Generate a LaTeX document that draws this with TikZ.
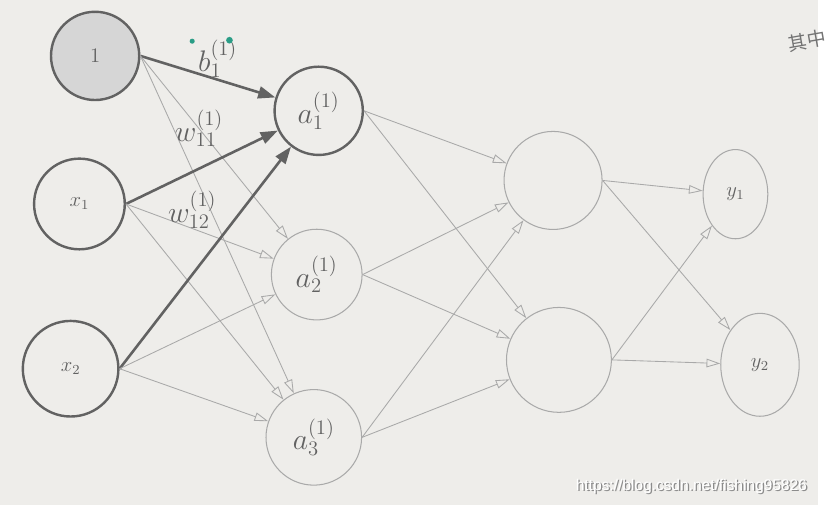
\documentclass[tikz,border=0pt]{standalone}
\usepackage{fontspec}
\newfontfamily\cjkfont{Noto Sans CJK SC}
\newfontfamily\urlfont{Liberation Sans}
\usetikzlibrary{shapes.geometric,arrows.meta}
\definecolor{paper}{HTML}{EEEDEA}
\definecolor{inkdark}{HTML}{626262}
\definecolor{inklight}{HTML}{A9A9A9}
\definecolor{marker}{HTML}{2A9D86}

\begin{document}
\begin{tikzpicture}
	[x=0.02cm,y=-0.02cm,
	neuron/.style={shape=circle,draw=inklight,line width=0.6pt,inner sep=1pt,text=inkdark,font=\LARGE},
	inneuron/.style={neuron,draw=inkdark,line width=1.4pt,font=\large},
	outneuron/.style={neuron,shape=ellipse,font=\large},
	strong/.style={-{Triangle[length=10pt,width=7pt]},draw=inkdark,line width=1.5pt},
	weak/.style={-{Triangle[open,length=8pt,width=5pt]},draw=inklight,line width=0.5pt},
	weight/.style={text=inkdark,font=\LARGE}]
		% page
		\fill[paper] (0,0) rectangle (834,515);

		% input layer
		\node[inneuron,fill=black!16,minimum size=1.8cm] (one) at (97,57) {1};
		\node[inneuron,minimum size=1.85cm] (x1) at (81,208) {$x_1$};
		\node[inneuron,minimum size=1.95cm] (x2) at (72,376) {$x_2$};

		% first hidden layer
		\node[neuron,draw=inkdark,line width=1.4pt,minimum size=1.8cm] (a1) at (325,113) {$a_1^{(1)}$};
		\node[neuron,minimum size=1.85cm] (a2) at (323,280) {$a_2^{(1)}$};
		\node[neuron,minimum size=1.95cm] (a3) at (320,446) {$a_3^{(1)}$};

		% second hidden layer
		\node[neuron,minimum size=2cm] (z1) at (564,184) {};
		\node[neuron,minimum size=2.14cm] (z2) at (570,367) {};

		% output layer
		\node[outneuron,minimum width=1.32cm,minimum height=1.82cm] (y1) at (750,198) {$y_1$};
		\node[outneuron,minimum width=1.6cm,minimum height=2.1cm] (y2) at (775,372) {$y_2$};

		\path
		\foreach \startNode in {one, x1, x2}
		{
			(\startNode.east) edge[strong] (a1)
			(\startNode.east) edge[weak] (a2)
			(\startNode.east) edge[weak] (a3)
		};
		\path
		\foreach \startNode/\endNode in {a1/z1, a1/z2, a2/z1, a2/z2, a3/z1, a3/z2, z1/y1, z1/y2, z2/y1, z2/y2}
		{
			(\startNode.east) edge[weak] (\endNode)
		};

		% weights
		\node[weight] (b11) at (222,60) {$b_1^{(1)}$};
		\node[weight] (w11) at (203,131) {$w_{11}^{(1)}$};
		\node[weight] (w12) at (196,214) {$w_{12}^{(1)}$};
		\fill[marker] (196,42) circle (2.6);
		\fill[marker] (234,41) circle (3.4);

		% page text
		\node[anchor=west,rotate=10,text=black!55,font=\cjkfont\fontsize{11}{11}\selectfont] (qizhong) at (798,46) {其中};
		\node[text=black!45,font=\urlfont\fontsize{9}{9}\selectfont] (urlshadow) at (706.5,497.5) {https://blog.csdn.net/fishing95826};
		\node[text=white,font=\urlfont\fontsize{9}{9}\selectfont] (url) at (705,496) {https://blog.csdn.net/fishing95826};
	\end{tikzpicture}
\end{document}
